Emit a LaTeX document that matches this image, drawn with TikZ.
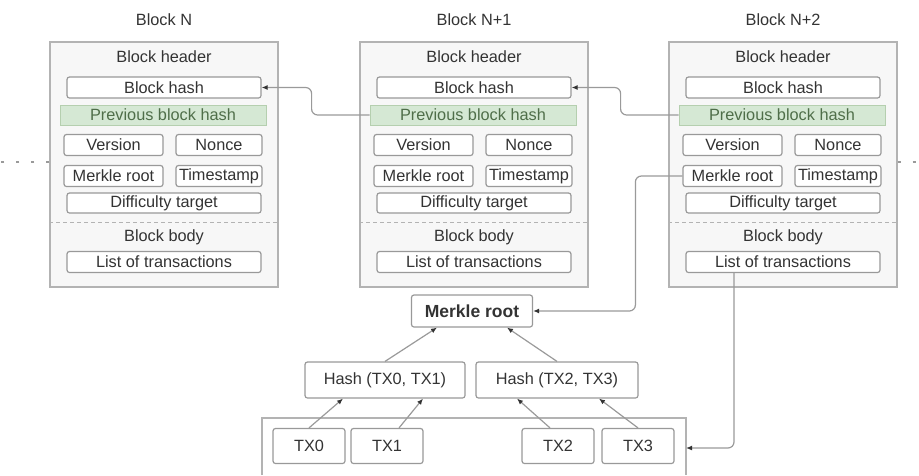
\documentclass[tikz,border=0pt]{standalone}
\usepackage{fontspec}
\setmainfont{Liberation Sans}
\usetikzlibrary{arrows.meta,calc}
\definecolor{txt}{HTML}{333333}
\definecolor{grtxt}{HTML}{4F6E49}
\definecolor{boxln}{HTML}{999999}
\definecolor{outln}{HTML}{B3B3B3}
\definecolor{outfill}{HTML}{F7F7F7}
\definecolor{grfill}{HTML}{D5E8D4}
\definecolor{grln}{HTML}{B5CFAF}
\definecolor{connln}{HTML}{9A9A9A}
\definecolor{tipcol}{HTML}{333333}
\begin{document}
\begin{tikzpicture}[x=1pt,y=-1pt,
  every node/.style={text=txt, font=\fontsize{16.3}{19}\selectfont},
  blockbox/.style={draw=outln, fill=outfill, line width=1.2pt, minimum width=228pt, minimum height=245pt, inner sep=0pt},
  fld/.style={draw=boxln, fill=white, rounded corners=2.5pt, line width=1.2pt, minimum height=21pt, inner sep=0pt},
  greenband/.style={draw=grln, fill=grfill, line width=0.8pt, minimum width=206pt, minimum height=20pt, inner sep=0pt, text=grtxt},
  plain/.style={inner sep=0pt},
  conn/.style={draw=connln, line width=1.2pt, -{Latex[length=6pt,width=5pt,color=tipcol]}},
  sep/.style={draw=outln, line width=1pt, dash pattern=on 4pt off 3pt},
  dots/.style={draw=connln, line width=1.8pt, dash pattern=on 3pt off 12pt},
  grpline/.style={draw=outln, line width=1.2pt}
]
\useasboundingbox (0,0) rectangle (919,475);

\foreach \i/\x/\t in {0/50/Block N, 1/360/Block N+1, 2/669/Block N+2}{
  \node[blockbox] (b\i) at ({\x+114},164.5) {};
  \node[plain] (t\i) at ({\x+114},20) {\t};
  \node[plain] (hd\i) at ({\x+114},57) {Block header};
  \node[fld, minimum width=194pt] (h\i) at ({\x+114},87.5) {Block hash};
  \node[greenband] (p\i) at ({\x+113},115) {Previous block hash};
  \node[fld, minimum width=99pt] (v\i) at ({\x+63.5},145) {Version};
  \node[fld, minimum width=86pt] (n\i) at ({\x+169},145) {Nonce};
  \node[fld, minimum width=99pt] (m\i) at ({\x+63.5},176) {Merkle root};
  \node[fld, minimum width=86pt] (ts\i) at ({\x+169},176) {Timestamp};
  \node[fld, minimum width=194pt, minimum height=20pt] (d\i) at ({\x+114},203) {Difficulty target};
  \draw[sep] (b\i.west |- 0,222) -- (b\i.east |- 0,222);
  \node[plain] (bb\i) at ({\x+114},237) {Block body};
  \node[fld, minimum width=194pt] (l\i) at ({\x+114},262) {List of transactions};
}

% continuation dots
\coordinate (lend) at (0,162);
\coordinate (rend) at (919,162);
\draw[dots] (b0.west |- lend) -- (lend);
\draw[dots] (b2.east |- rend) -- (rend);

% chain links
\draw[conn, rounded corners=6pt] (p1.west) -- ++(-58pt,0) |- (h0.east);
\draw[conn, rounded corners=6pt] (p2.west) -- ++(-58pt,0) |- (h1.east);

% Merkle tree
\node[fld, minimum width=121pt, minimum height=32pt, font=\fontsize{17.5}{20}\selectfont\bfseries] (mr) at (472,311) {Merkle root};
\node[fld, minimum width=160pt, minimum height=36pt] (h01) at (385,380) {Hash (TX0, TX1)};
\node[fld, minimum width=162pt, minimum height=36pt] (h23) at (557,380) {Hash (TX2, TX3)};
\node[fld, minimum width=72pt, minimum height=35pt] (tx0) at (309,446) {TX0};
\node[fld, minimum width=72pt, minimum height=35pt] (tx1) at (387,446) {TX1};
\node[fld, minimum width=72pt, minimum height=35pt] (tx2) at (558,446) {TX2};
\node[fld, minimum width=72pt, minimum height=35pt] (tx3) at (638,446) {TX3};

% transactions group
\draw[grpline] (262,475) -- (262,418) -- (686,418) -- (686,475);
\coordinate (grpE) at (686,448);

\draw[conn] (h01.north) -- ([xshift=-35pt]mr.south);
\draw[conn] (h23.north) -- ([xshift=35pt]mr.south);
\draw[conn] (tx0.north) -- ([xshift=-42pt]h01.south);
\draw[conn] ([xshift=12pt]tx1.north) -- ([xshift=38pt]h01.south);
\draw[conn] ([xshift=-8pt]tx2.north) -- ([xshift=-40pt]h23.south);
\draw[conn] (tx3.north) -- ([xshift=42pt]h23.south);

% header merkle root -> tree root
\draw[conn, rounded corners=6pt] (m2.west) -- ++(-47pt,0) |- (mr.east);
% list of transactions -> transactions
\draw[conn, rounded corners=6pt] ([xshift=-49pt]l2.south) |- (grpE);
\end{tikzpicture}
\end{document}
